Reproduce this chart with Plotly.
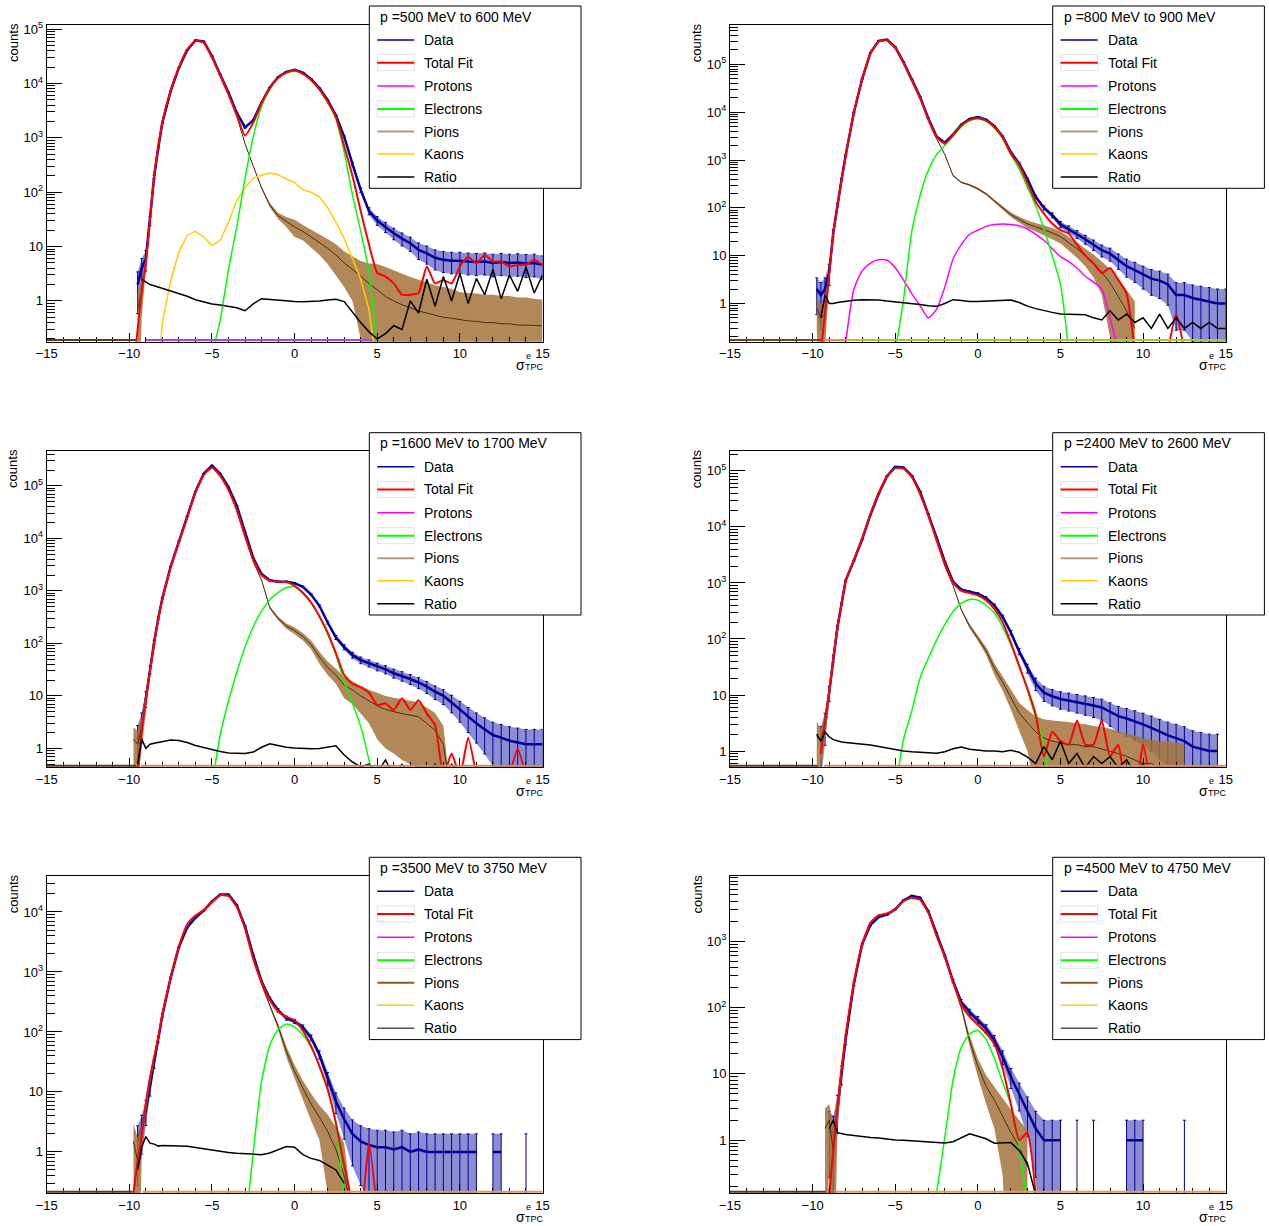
import numpy as np
import plotly.graph_objects as go

N = None
W, H = 1269, 1226

sigma = [-10, -9.75, -9.5, -9.25, -9, -8.75, -8.5, -8.25, -8,
         -7.5, -7, -6.5, -6, -5.5, -5, -4.5, -4, -3.5, -3, -2.5, -2, -1.5, -1, -0.5, 0,
         0.5, 1, 1.5, 2, 2.5, 3, 3.5, 4, 4.5, 5, 5.5, 6, 6.5, 7, 7.5,
         8, 8.5, 9, 9.5, 10, 10.5, 11, 11.5, 12, 12.5, 13, 13.5, 14, 14.5, 15]

# ---------------- p = 500 - 600 MeV
p1_data = [N, N, 2, 4, 6, 30, 190, 650, 1900,
           7200, 1.95e4, 4.1e4, 6.2e4, 5.9e4, 3.2e4, 1.45e4, 6.8e3, 2.9e3, 1.55e3, 2.1e3, 4.4e3, 8.4e3, 1.3e4, 1.62e4, 1.78e4,
           1.58e4, 1.2e4, 8.2e3, 4.9e3, 2.6e3, 1.05e3, 330, 110, 45, 30, 23, 17.5, 14, 11.5, 8.7,
           7.5, 6.2, 5.7, 5.5, 5.5, 5.3, 5.2, 5.3, 5.0, 5.2, 5.0, 5.1, 4.9, 5.0, 4.6]
p1_fit = [N, 0.05, 0.3, 1.5, 5, 30, 200, 700, 2000,
          7500, 2.0e4, 4.2e4, 6.0e4, 5.7e4, 3.0e4, 1.4e4, 6.3e3, 2.6e3, 1.1e3, 1.9e3, 4.3e3, 8.2e3, 1.26e4, 1.58e4, 1.72e4,
          1.5e4, 1.15e4, 7.8e3, 4.6e3, 2.4e3, 700, 200, 45, 11, 3.3, 2.8, 2.1, 1.3, 1.3, 1.4,
          4.3, 2.1, 2.4, 2.1, 4.3, 6.5, 4.9, 7.0, 5.3, 5.3, 4.3, 4.6, 4.6, 5.7, 4.6]
p1_pion = [N, N, 0.7, 1.5, 5, 30, 200, 700, 2000,
           7500, 2.0e4, 4.2e4, 6.0e4, 5.7e4, 3.0e4, 1.4e4, 6.2e3, 2.5e3, 780, 300, 120, 58, 37, 29, 23,
           19, 15, 12, 9.3, 7, 5, 3.8, 2.8, 2.1, 1.6, 1.2, 1.0, 0.85, 0.75, 0.65,
           0.6, 0.55, 0.5, 0.48, 0.45, 0.43, 0.42, 0.4, 0.4, 0.38, 0.38, 0.36, 0.36, 0.35, 0.35]
p1_pion_err = [0, 0, 0.7, 1, 1.5, 3, 10, 20, 30,
               50, 80, 120, 150, 150, 100, 70, 50, 30, 18, 10, 6, 5, 5, 6, 8,
               6, 5.5, 5, 4.5, 4, 3.2, 2.8, 2.6, 2.8, 3.2, 3.0, 2.6, 2.3, 2.0, 1.8,
               1.6, 1.4, 1.3, 1.2, 1.0, 1.0, 0.95, 0.9, 0.9, 0.85, 0.85, 0.8, 0.8, 0.75, 0.7]
p1_kaon = [N, N, N, N, N, N, N, 0.05, 0.4,
           2.3, 8, 16, 19, 15, 10.5, 13, 28, 70, 120, 180, 205, 224, 210, 175, 150,
           110, 100, 82, 52, 28, 14, 6, 2.5, 0.7, 0.05, N, N, N, N, N] + [N] * 15
p1_elec = [N] * 9 + [N, N, N, N, N, 0.1, 0.45, 3.8, 23, 180, 1050, 3800, 7800, 1.22e4, 1.55e4, 1.68e4,
                     1.48e4, 1.12e4, 7.6e3, 4.5e3, 2.2e3, 550, 90, 19, 3.5, 0.1, N, N, N, N, N] + [N] * 15
p1_ratio = [N, N, N, 2.5, 2.2, 2.0, 1.9, 1.8, 1.7,
            1.55, 1.4, 1.22, 1.05, 0.95, 0.88, 0.84, 0.8, 0.75, 0.66, 0.88, 1.1, 1.06, 1.03, 1.0, 0.98,
            0.97, 0.97, 1.0, 1.04, 1.07, 0.97, 0.62, 0.4, 0.27, 0.2, 0.25, 0.35, 0.3, 1.0, 0.6,
            2.5, 0.8, 2.8, 1.0, 3.2, 0.9, 2.6, 1.3, 3.8, 1.1, 3.0, 1.5, 4.2, 1.4, 3.0]

# ---------------- p = 800 - 900 MeV
p2_data = [N, 2.0, 1.5, 2.0, 4.5, 30, 115, 390, 1250,
           1.0e4, 5.0e4, 1.75e5, 3.1e5, 3.3e5, 2.3e5, 1.12e5, 4.9e4, 2.1e4, 7.5e3, 3.1e3, 2.3e3, 3.4e3, 5.5e3, 7.2e3, 7.9e3,
           7.0e3, 5.1e3, 3.1e3, 1.45e3, 850, 400, 170, 100, 70, 45, 36, 28, 22, 17, 13,
           11, 8, 6, 5, 4, 3.3, 3, 2.5, 1.5, 1.5, 1.3, 1.2, 1.1, 1.0, 1.0]
p2_fit = [N, N, 0.1, 0.6, 4, 29, 110, 380, 1200,
          9.7e3, 4.9e4, 1.7e5, 3.0e5, 3.2e5, 2.2e5, 1.07e5, 4.6e4, 2.0e4, 7.1e3, 3.0e3, 2.2e3, 3.3e3, 5.3e3, 6.9e3, 7.6e3,
          6.7e3, 4.9e3, 3.0e3, 1.35e3, 780, 330, 134, 76, 47, 34, 29, 17, 10, 6.9, 4.3,
          5.5, 3.1, 1.6, 0.1, N, N, N, 0.1, 0.6, 0.1, N, N, N, N, N]
p2_pion = [N, 0.8, 0.5, 0.6, 4, 29, 110, 380, 1200,
           9.7e3, 4.9e4, 1.7e5, 3.0e5, 3.2e5, 2.2e5, 1.07e5, 4.6e4, 2.0e4, 7.0e3, 2.8e3, 1.3e3, 470, 340, 300, 250,
           195, 140, 100, 72, 57, 46, 40, 35, 30, 25, 19, 14, 10, 7, 4.5,
           2.7, 1.4, 0.7, 0.3, N, N, N, N, N, N, N, N, N, N, N]
p2_pion_err = [0, 0.5, 0.5, 0.5, 1, 3, 5, 10, 20,
               50, 100, 200, 300, 300, 250, 200, 150, 100, 60, 40, 30, 20, 15, 15, 15,
               12, 10, 9, 8, 8, 8, 8, 8, 8, 7, 6, 5, 4, 3.5, 3,
               2.5, 2, 1.2, 0.8, 0, 0, 0, 0, 0, 0, 0, 0, 0, 0, 0]
p2_prot = [N, N, N, N, N, N, N, N, 0.15,
           2.0, 4.8, 7, 8.2, 8, 5.6, 3.1, 1.6, 0.9, 0.5, 0.75, 2.2, 8.5, 17, 28, 34,
           41, 45, 46, 45, 42, 36, 28, 21, 14, 9.5, 7.5, 5.5, 3.7, 2.8, 2.0,
           0.5, 0.1, N, N, N, N, N, N, N, N, N, N, N, N, N]
p2_elec = [N] * 9 + [N, N, N, N, N, 0.1, 1.2, 32, 180, 600, 1.3e3, 2.0e3, 3.2e3, 5.0e3, 6.6e3, 7.3e3,
                     6.4e3, 4.7e3, 2.8e3, 1.3e3, 650, 270, 110, 36, 10, 2.5, 0.1, N, N, N, N] + [N] * 15
p2_ratio = [N, N, 0.5, 1.5, 1.0, 1.0, 1.05, 1.08, 1.12,
            1.17, 1.19, 1.19, 1.18, 1.12, 1.08, 1.02, 0.98, 0.95, 0.9, 0.87, 1.0, 1.2, 1.15, 1.1, 1.1,
            1.12, 1.14, 1.18, 1.18, 1.05, 0.88, 0.78, 0.7, 0.65, 0.6, 0.6, 0.6, 0.58, 0.5, 0.45,
            0.7, 0.45, 0.6, 0.4, 0.5, 0.3, 0.6, 0.3, 0.5, 0.3, 0.4, 0.3, 0.4, 0.3, 0.3]

# ---------------- p = 1600 - 1700 MeV
p3_data = [N, N, 1.5, 3, 9, 32, 105, 300, 730,
           2.9e3, 8.8e3, 2.6e4, 7.8e4, 1.7e5, 2.45e5, 1.7e5, 9.5e4, 4.2e4, 1.3e4, 4.2e3, 2.1e3, 1.6e3, 1.5e3, 1.5e3, 1.4e3,
           1.2e3, 850, 520, 250, 130, 85, 60, 48, 42, 36, 32, 27, 24, 21, 18,
           15, 12, 10, 7.5, 5.5, 4, 3, 2.3, 1.8, 1.6, 1.4, 1.3, 1.2, 1.2, 1.2]
p3_fit = [N, N, 0.3, 2.2, 8, 30, 100, 290, 700,
          2.8e3, 8.5e3, 2.5e4, 7.5e4, 1.6e5, 2.25e5, 1.55e5, 8.3e4, 3.5e4, 1.1e4, 3.9e3, 2.0e3, 1.55e3, 1.5e3, 1.48e3, 1.25e3,
          920, 600, 330, 160, 65, 25, 17, 14.5, 11.5, 6.7, 7.2, 5.4, 9, 5.4, 8.3,
          4.6, 2.8, 0.3, 0.8, 0.3, 1.6, 0.3, N, N, N, 0.3, 0.97, 0.3, N, N]
p3_pion = [N, 1.5, 1.2, 2.5, 8, 30, 100, 290, 700,
           2.8e3, 8.5e3, 2.5e4, 7.5e4, 1.6e5, 2.25e5, 1.55e5, 8.3e4, 3.5e4, 1.1e4, 3.6e3, 1.6e3, 480, 300, 215, 175,
           135, 95, 55, 35, 25, 16, 13, 10, 8, 6.5, 5.5, 5, 4.6, 4.3, 4,
           3, 2.2, 1.2, 0.1, N, N, N, N, N, N, N, N, N, N, N]
p3_pion_err = [0, 1.0, 1.0, 1.5, 3, 5, 8, 15, 25,
               50, 90, 150, 250, 400, 450, 400, 300, 200, 100, 60, 40, 30, 25, 25, 25,
               22, 18, 14, 10, 8, 7, 6, 5.5, 5, 5, 4.5, 4.2, 4, 3.8, 3.6,
               3, 2.5, 1.5, 0, 0, 0, 0, 0, 0, 0, 0, 0, 0, 0, 0]
p3_elec = [N] * 9 + [N, N, N, N, N, 0.2, 1.8, 8, 28, 85, 210, 410, 680, 930, 1.15e3, 1.2e3,
                     900, 580, 320, 150, 60, 19, 7.2, 2.6, 0.6, 0.1, N, N, N, N, N] + [N] * 15
p3_ratio = [N, N, 0.5, 1.5, 1.0, 1.2, 1.25, 1.3, 1.35,
            1.44, 1.42, 1.3, 1.14, 1.04, 0.97, 0.87, 0.82, 0.8, 0.8, 0.85, 1.05, 1.22, 1.12, 1.05, 1.02,
            1.0, 0.99, 1.0, 1.05, 1.12, 0.75, 0.55, 0.45, 0.5, 0.35, 0.6, 0.3, 0.5, 0.3, 0.45,
            0.3, 0.5, 0.3, 0.5, 0.3, 0.3, 0.3, N, N, N, N, N, N, N, N]

# ---------------- p = 2400 - 2600 MeV
p4_data = [N, N, 1.5, 3, 11, 45, 160, 420, 1.1e3,
           2.5e3, 6.0e3, 1.65e4, 3.9e4, 8.0e4, 1.18e5, 1.15e5, 8.2e4, 4.3e4, 1.7e4, 6.5e3, 2.4e3, 1.05e3, 760, 700, 640,
           540, 400, 250, 130, 60, 30, 16, 11, 9.5, 8.5, 8, 7.5, 7, 6.5, 6,
           5, 4.2, 3.8, 3.4, 3, 2.6, 2.2, 1.9, 1.7, 1.5, 1.2, 1.1, 1.0, 1.0, N]
p4_fit = [N, N, 0.9, 3.5, 11, 45, 160, 420, 1.1e3,
          2.6e3, 6.3e3, 1.7e4, 4.0e4, 7.9e4, 1.12e5, 1.1e5, 7.8e4, 3.9e4, 1.6e4, 5.8e3, 2.2e3, 1.0e3, 720, 660, 600,
          490, 340, 200, 85, 33, 13, 4.5, 0.8, 2.2, 1.5, 1.3, 3.5, 1.3, 1.3, 3.5,
          0.8, 1.3, 0.2, 0.2, 1.3, 0.2, N, N, N, N, N, N, N, N, N]
p4_pion = [N, 1.8, 1.5, 3, 11, 45, 160, 420, 1.1e3,
           2.6e3, 6.3e3, 1.7e4, 4.0e4, 7.9e4, 1.12e5, 1.1e5, 7.8e4, 3.9e4, 1.6e4, 5.8e3, 2.0e3, 900, 330, 170, 105,
           62, 30, 17, 9, 4.8, 3.2, 2.2, 1.7, 1.5, 1.4, 1.3, 1.3, 1.2, 1.2, 1.1,
           1.0, 0.9, 0.8, 0.7, 0.6, 0.6, 0.5, 0.5, 0.5, 0.45, N, N, N, N, N]
p4_pion_err = [0, 1.5, 1.0, 1.5, 3, 6, 10, 15, 25,
               40, 70, 120, 200, 300, 350, 350, 300, 200, 120, 70, 40, 25, 18, 15, 12,
               10, 7, 5, 3.5, 2.5, 2.2, 2, 2, 2, 2, 2, 1.8, 1.8, 1.6, 1.6,
               1.5, 1.4, 1.3, 1.2, 1.1, 1.0, 1.0, 1.0, 0.9, 0.9, 0, 0, 0, 0, 0]
p4_elec = [N] * 9 + [N, N, N, N, N, 0.2, 1.6, 5.2, 20, 45, 95, 180, 310, 430, 505, 490,
                     400, 290, 165, 78, 33, 12, 4, 1.3, 0.1, N, N, N, N, N, N] + [N] * 15
p4_ratio = [N, 2.0, 1.5, 2.2, 1.8, 1.6, 1.5, 1.45, 1.42,
            1.38, 1.33, 1.28, 1.2, 1.12, 1.04, 1.0, 0.97, 0.94, 0.93, 0.91, 0.97, 1.1, 1.18, 1.08, 1.03,
            1.0, 1.0, 0.97, 1.03, 0.95, 0.78, 0.6, 1.2, 0.7, 1.5, 0.6, 0.9, 0.5, 0.8, 0.6,
            0.8, 0.5, 0.7, 0.4, 0.6, 0.3, N, N, N, N, N, N, N, N, N]

# ---------------- p = 3500 - 3750 MeV
p5_data = [N, N, 1.5, 2.5, 5, 12, 30, 75, 190,
           800, 2.6e3, 5.5e3, 8.0e3, 1.05e4, 1.5e4, 1.95e4, 1.95e4, 1.3e4, 5.8e3, 1.9e3, 700, 360, 230, 170, 150,
           120, 80, 42, 17, 7, 3.5, 2, 1.5, 1.3, 1.2, 1.2, 1.1, 1.2, 1.0, 1.1,
           1.0, 1.0, 1.0, 1.0, 1.0, 1.0, 1.0, N, 1.0, 1.0, N, N, 1.0, N, N]
p5_fit = [N, 0.2, 0.7, 1.8, 6.5, 17, 38, 80, 200,
          800, 2.7e3, 6.2e3, 8.7e3, 1.08e4, 1.45e4, 1.9e4, 1.85e4, 1.22e4, 5.3e3, 1.65e3, 680, 340, 220, 180, 155,
          105, 58, 27, 11, 3, 0.6, 0.15, 0.1, 1.4, 0.1, N, N, N, N, N] + [N] * 15
p5_pion = [N, 1.5, 0.7, 1.8, 6.5, 17, 38, 80, 200,
           800, 2.7e3, 6.2e3, 8.7e3, 1.08e4, 1.45e4, 1.9e4, 1.85e4, 1.22e4, 5.3e3, 1.6e3, 620, 270, 125, 48, 22,
           11.5, 6.3, 3.8, 2.2, 1.1, 0.4, 0.1, N, N, N, N, N, N, N, N] + [N] * 15
p5_pion_err = [0, 1.5, 1.0, 1.0, 2, 4, 6, 10, 20,
               30, 60, 80, 100, 120, 150, 150, 150, 120, 80, 40, 30, 20, 15, 10, 6,
               4, 3, 2.2, 2, 1.5, 1.0, 0, 0, 0, 0, 0, 0, 0, 0, 0] + [0] * 15
p5_elec = [N] * 9 + [N, N, N, N, N, N, N, N, N, 0.05, 1.0, 15, 60, 110, 135, 120,
                     90, 55, 27, 11, 3, 0.15, N, N, N, N, N, N, N, N, N] + [N] * 15
p5_ratio = [N, N, 0.5, 1.2, 1.8, 1.4, 1.35, 1.25, 1.28,
            1.28, 1.26, 1.24, 1.18, 1.12, 1.06, 1.02, 0.98, 0.95, 0.94, 0.92, 0.9, 0.96, 1.1, 1.23, 1.2,
            0.9, 0.78, 0.72, 0.6, 0.5, 0.3, N, N, N, N, N, N, N, N, N] + [N] * 15

# ---------------- p = 4500 - 4750 MeV
p6_data = [N, N, N, N, 1.5, 1.2, 3.0, 10, 33,
           230, 900, 1.75e3, 2.3e3, 2.5e3, 3.0e3, 4.1e3, 4.8e3, 4.5e3, 2.8e3, 1.3e3, 600, 250, 120, 85, 65,
           48, 32, 18, 9, 5, 2.8, 1.5, 1.0, 1.0, 1.0, N, 1.0, N, 1.0, N,
           N, N, 1.0, 1.0, 1.0, N, N, N, N, 1.0, N, N, N, N, N]
p6_fit = [N, N, N, N, 0.15, 0.7, 3, 12, 38,
          240, 900, 1.9e3, 2.45e3, 2.6e3, 3.0e3, 4.0e3, 4.5e3, 4.2e3, 2.7e3, 1.2e3, 580, 240, 110, 73, 55,
          41, 28, 12, 3.5, 1.0, 1.3, 0.15, N, N, N, N, N, N, N, N] + [N] * 15
p6_pion = [N, N, N, 1.5, 2.0, 0.7, 3, 12, 38,
           240, 900, 1.9e3, 2.45e3, 2.6e3, 3.0e3, 4.0e3, 4.5e3, 4.2e3, 2.7e3, 1.2e3, 580, 240, 100, 32, 13,
           6.5, 4.0, 2.3, 1.3, 0.8, 0.4, N, N, N, N, N, N, N, N, N] + [N] * 15
p6_pion_err = [0, 0, 0, 1.5, 1.5, 1.0, 1.5, 3, 6,
               15, 30, 40, 50, 50, 55, 60, 65, 60, 50, 35, 25, 15, 10, 6, 4,
               3, 2.5, 2.0, 1.6, 1.2, 1.0, 0, 0, 0, 0, 0, 0, 0, 0, 0] + [0] * 15
p6_elec = [N] * 9 + [N, N, N, N, N, N, N, N, N, N, 0.16, 1.1, 8, 25, 40, 45,
                     33, 17, 7.5, 3.4, 0.8, 0.1, N, N, N, N, N, N, N, N, N] + [N] * 15
p6_ratio = [N, N, N, N, 1.5, 2.0, 1.3, 1.25, 1.22,
            1.18, 1.13, 1.1, 1.08, 1.04, 1.01, 1.0, 0.98, 0.96, 0.94, 0.93, 0.91, 0.95, 1.08, 1.25, 1.15,
            1.05, 0.9, 0.9, 0.92, 0.7, 0.45, 0.15, N, N, N, N, N, N, N, N] + [N] * 15

# empty bins that ROOT draws along the bottom of the log axis (from, to, colour)
p1_zero = [(-15, -9.6, '#5c3c1c'), (-9.0, 4.7, '#b040f0')]
p2_zero = [(-15, -9.5, '#6b4a2a'), (-9.3, -8.0, '#f08040'), (-8.0, 15, '#a8c83c')]
p3_zero = [(-15, -9.6, '#5c3c1c'), (-9.3, 15, '#c8905a')]
p4_zero = [(-15, -9.7, '#5c3c1c'), (-9.3, 15, '#d09060')]
p5_zero = [(-15, -9.8, '#5c3c1c'), (-9.2, 15, '#d8a050')]
p6_zero = [(-15, -9.2, '#5c3c1c'), (-8.6, 15, '#e0a050')]

labels = ["p =500 MeV to 600 MeV", "p =800 MeV to 900 MeV", "p =1600 MeV to 1700 MeV",
          "p =2400 MeV to 2600 MeV", "p =3500 MeV to 3750 MeV", "p =4500 MeV to 4750 MeV"]
legend_names = ["Data", "Total Fit", "Protons", "Electrons", "Pions", "Kaons", "Ratio"]

panels = [
    dict(data=p1_data, fit=p1_fit, pion=p1_pion, perr=p1_pion_err, elec=p1_elec, kaon=p1_kaon, prot=None,
         ratio=p1_ratio, yr=(-0.75, 5.08), top=5, zero=p1_zero),
    dict(data=p2_data, fit=p2_fit, pion=p2_pion, perr=p2_pion_err, elec=p2_elec, kaon=None, prot=p2_prot,
         ratio=p2_ratio, yr=(-0.8, 5.83), top=5, zero=p2_zero),
    dict(data=p3_data, fit=p3_fit, pion=p3_pion, perr=p3_pion_err, elec=p3_elec, kaon=None, prot=None,
         ratio=p3_ratio, yr=(-0.36, 5.67), top=5, zero=p3_zero),
    dict(data=p4_data, fit=p4_fit, pion=p4_pion, perr=p4_pion_err, elec=p4_elec, kaon=None, prot=None,
         ratio=p4_ratio, yr=(-0.29, 5.36), top=5, zero=p4_zero),
    dict(data=p5_data, fit=p5_fit, pion=p5_pion, perr=p5_pion_err, elec=p5_elec, kaon=None, prot=None,
         ratio=p5_ratio, yr=(-0.69, 4.6), top=4, zero=p5_zero),
    dict(data=p6_data, fit=p6_fit, pion=p6_pion, perr=p6_pion_err, elec=p6_elec, kaon=None, prot=None,
         ratio=p6_ratio, yr=(-0.8, 3.98), top=3, zero=p6_zero),
]
for j, p in enumerate(panels):
    for key in ('data', 'fit', 'pion', 'perr', 'elec', 'kaon', 'prot', 'ratio'):
        if p[key] is not None:
            assert len(p[key]) == len(sigma), (j + 1, key, len(p[key]))

BLUE = '#000099'
RED = '#ff0000'
GREEN = '#00ff00'
MAGENTA = '#ff00ff'
GOLD = '#ffcc00'
PION_LINE = '#4a2e12'
PION_FILL = 'rgba(165,115,60,0.85)'
FONT = 'Liberation Sans, Arial, Helvetica, sans-serif'

# pixel geometry of the 3x2 pad grid
col_px = [(46.7, 542.5), (730.0, 1225.7)]
row_px = [(24.7, 341.7), (450.7, 767.3), (876.0, 1193.3)]
leg_px = [(369.3, 6.0), (1052.7, 6.0), (369.3, 432.7), (1052.7, 432.7), (369.3, 857.3), (1052.7, 857.3)]
LEG_W, LEG_H = 211.7, 182.3
leg_rows = [34, 56.7, 80, 103, 125.5, 148, 171]


def fx(p):
    return p / W


def fy(p):
    return 1 - p / H


def band_xy(xs, ys, errs):
    # closed polygons (one per run of filled bins) between y-err and y+err
    bx, by, run = [], [], []
    for x, y, e in list(zip(xs, ys, errs)) + [(None, None, None)]:
        if y is not None:
            run.append((x, y, e))
            continue
        if len(run) > 1:
            bx += [r[0] for r in run] + [r[0] for r in run[::-1]] + [None]
            by += [r[1] + r[2] for r in run] + [max(r[1] - r[2], 1e-3) for r in run[::-1]] + [None]
        run = []
    return bx, by


fig = go.Figure()
shapes, annots, axes = [], [], {}

for i, p in enumerate(panels):
    k = '' if i == 0 else str(i + 1)
    xr, yr = 'x' + k, 'y' + k
    col, row = i % 2, i // 2
    x0, x1 = col_px[col]
    t, b = row_px[row]

    # data: error band + line with sqrt(N) error bars
    err = [None if v is None else float(np.sqrt(v)) for v in p['data']]
    bx, by = band_xy(sigma, p['data'], err)
    fig.add_trace(go.Scatter(x=bx, y=by, xaxis=xr, yaxis=yr, mode='lines', fill='toself',
                             fillcolor='rgba(25,25,165,0.5)', line=dict(width=0), hoverinfo='skip'))
    fig.add_trace(go.Scatter(
        x=sigma, y=p['data'], xaxis=xr, yaxis=yr, mode='lines', line=dict(color=BLUE, width=2.5),
        error_y=dict(type='data', symmetric=False,
                     array=[0 if e is None else e for e in err],
                     arrayminus=[0 if v is None else min(e, v - 1e-3) for v, e in zip(p['data'], err)],
                     color=BLUE, thickness=1, width=1.5)))

    # pion template with its errors
    bx, by = band_xy(sigma, p['pion'], p['perr'])
    fig.add_trace(go.Scatter(x=bx, y=by, xaxis=xr, yaxis=yr, mode='lines', fill='toself',
                             fillcolor=PION_FILL, line=dict(width=0), hoverinfo='skip'))
    fig.add_trace(go.Scatter(x=sigma, y=p['pion'], xaxis=xr, yaxis=yr, mode='lines',
                             line=dict(color=PION_LINE, width=1)))

    if p['kaon'] is not None:
        fig.add_trace(go.Scatter(x=sigma, y=p['kaon'], xaxis=xr, yaxis=yr, mode='lines',
                                 line=dict(color=GOLD, width=1.5)))
    if p['prot'] is not None:
        fig.add_trace(go.Scatter(x=sigma, y=p['prot'], xaxis=xr, yaxis=yr, mode='lines',
                                 line=dict(color=MAGENTA, width=1.5, shape='spline', smoothing=0.6)))
    fig.add_trace(go.Scatter(x=sigma, y=p['elec'], xaxis=xr, yaxis=yr, mode='lines',
                             line=dict(color=GREEN, width=1.5, shape='spline', smoothing=0.6)))
    fig.add_trace(go.Scatter(x=sigma, y=p['fit'], xaxis=xr, yaxis=yr, mode='lines',
                             line=dict(color=RED, width=2, shape='spline', smoothing=0.5)))
    fig.add_trace(go.Scatter(x=sigma, y=p['ratio'], xaxis=xr, yaxis=yr, mode='lines',
                             line=dict(color='black', width=1.5)))

    # axes
    lo, hi = p['yr']
    minor_vals = [m * 10.0 ** d for d in range(-1, p['top'] + 1) for m in range(2, 10)
                  if lo <= np.log10(m * 10.0 ** d) <= hi]
    axes['xaxis' + k] = dict(
        domain=[fx(x0), fx(x1)], anchor=yr, range=[-15, 15], automargin=False,
        tickmode='array', tickvals=[-15, -10, -5, 0, 5, 10, 15],
        ticks='inside', ticklen=9, tickcolor='black', tickwidth=1,
        showline=True, linecolor='black', linewidth=1, mirror=True,
        showgrid=False, zeroline=False, tickfont=dict(size=13, color='black', family=FONT),
        minor=dict(ticks='inside', ticklen=5, dtick=1, tick0=0, tickcolor='black', showgrid=False))
    axes['yaxis' + k] = dict(
        domain=[fy(b), fy(t)], anchor=xr, type='log', range=[lo, hi], automargin=False,
        tickmode='array', tickvals=[10 ** d for d in range(p['top'] + 1)],
        ticktext=['1', '10'] + ['10<sup>%d</sup>' % d for d in range(2, p['top'] + 1)],
        ticks='inside', ticklen=15, tickcolor='black', tickwidth=1,
        showline=True, linecolor='black', linewidth=1, mirror=True,
        showgrid=False, zeroline=False, tickfont=dict(size=13, color='black', family=FONT),
        minor=dict(tickmode='array', tickvals=minor_vals, ticks='inside', ticklen=8,
                   tickcolor='black', showgrid=False))

    # empty bins drawn on the bottom edge
    for a, c, colr in p['zero']:
        shapes.append(dict(type='line', xref=xr, yref=yr + ' domain', x0=a, x1=c, y0=0.005, y1=0.005,
                           line=dict(color=colr, width=2)))

    # axis titles
    annots.append(dict(xref='paper', yref='paper', x=fx(x0 - 33.5), y=fy(t + 18), text='counts',
                       textangle=-90, showarrow=False, xanchor='center', yanchor='middle',
                       font=dict(size=13, color='black', family=FONT)))
    annots.append(dict(xref='paper', yref='paper', x=fx(x1 - 22.5), y=fy(b + 23.3), text='σ',
                       showarrow=False, xanchor='center', yanchor='middle',
                       font=dict(size=14, color='black', family=FONT)))
    annots.append(dict(xref='paper', yref='paper', x=fx(x1 - 14.5), y=fy(b + 14), text='e',
                       showarrow=False, xanchor='center', yanchor='middle',
                       font=dict(size=9, color='black', family=FONT)))
    annots.append(dict(xref='paper', yref='paper', x=fx(x1 - 8.5), y=fy(b + 25.5), text='TPC',
                       showarrow=False, xanchor='center', yanchor='middle',
                       font=dict(size=9, color='black', family=FONT)))

    # legend box
    lx, ly = leg_px[i]
    shapes.append(dict(type='rect', xref='paper', yref='paper', x0=fx(lx), x1=fx(lx + LEG_W),
                       y0=fy(ly + LEG_H), y1=fy(ly), line=dict(color='black', width=1), fillcolor='white'))
    annots.append(dict(xref='paper', yref='paper', x=fx(lx + 9), y=fy(ly + 10.7), text=labels[i],
                       showarrow=False, xanchor='left', yanchor='middle',
                       font=dict(size=14, color='black', family=FONT)))
    pion_leg = '#b8987a' if i < 4 else '#8b5a2b'
    ratio_leg = 'black' if i < 4 else '#555555'
    leg_cols = [BLUE, RED, MAGENTA, GREEN, pion_leg, GOLD, ratio_leg]
    for name, off, colr in zip(legend_names, leg_rows, leg_cols):
        if name in ('Total Fit', 'Electrons'):
            shapes.append(dict(type='rect', xref='paper', yref='paper', x0=fx(lx + 8), x1=fx(lx + 45),
                               y0=fy(ly + off + 8), y1=fy(ly + off - 8),
                               line=dict(color='#e2e2e2', width=1), fillcolor='rgba(0,0,0,0)'))
        shapes.append(dict(type='line', xref='paper', yref='paper', x0=fx(lx + 8), x1=fx(lx + 45),
                           y0=fy(ly + off), y1=fy(ly + off),
                           line=dict(color=colr, width=2 if name in ('Total Fit', 'Electrons', 'Pions') else 1.5)))
        annots.append(dict(xref='paper', yref='paper', x=fx(lx + 53), y=fy(ly + off), text=name,
                           showarrow=False, xanchor='left', yanchor='middle',
                           font=dict(size=14, color='black', family=FONT)))

fig.update_layout(
    width=W, height=H, margin=dict(l=0, r=0, t=0, b=0, autoexpand=False),
    paper_bgcolor='white', plot_bgcolor='white', showlegend=False,
    font=dict(family=FONT, color='black'),
    shapes=shapes, annotations=annots, **axes)

# the page's default 8px body margin would push the whole canvas off the window grid
fig.write_html("out.html", config={'displayModeBar': False},
               post_script="document.body.style.margin='0';")
